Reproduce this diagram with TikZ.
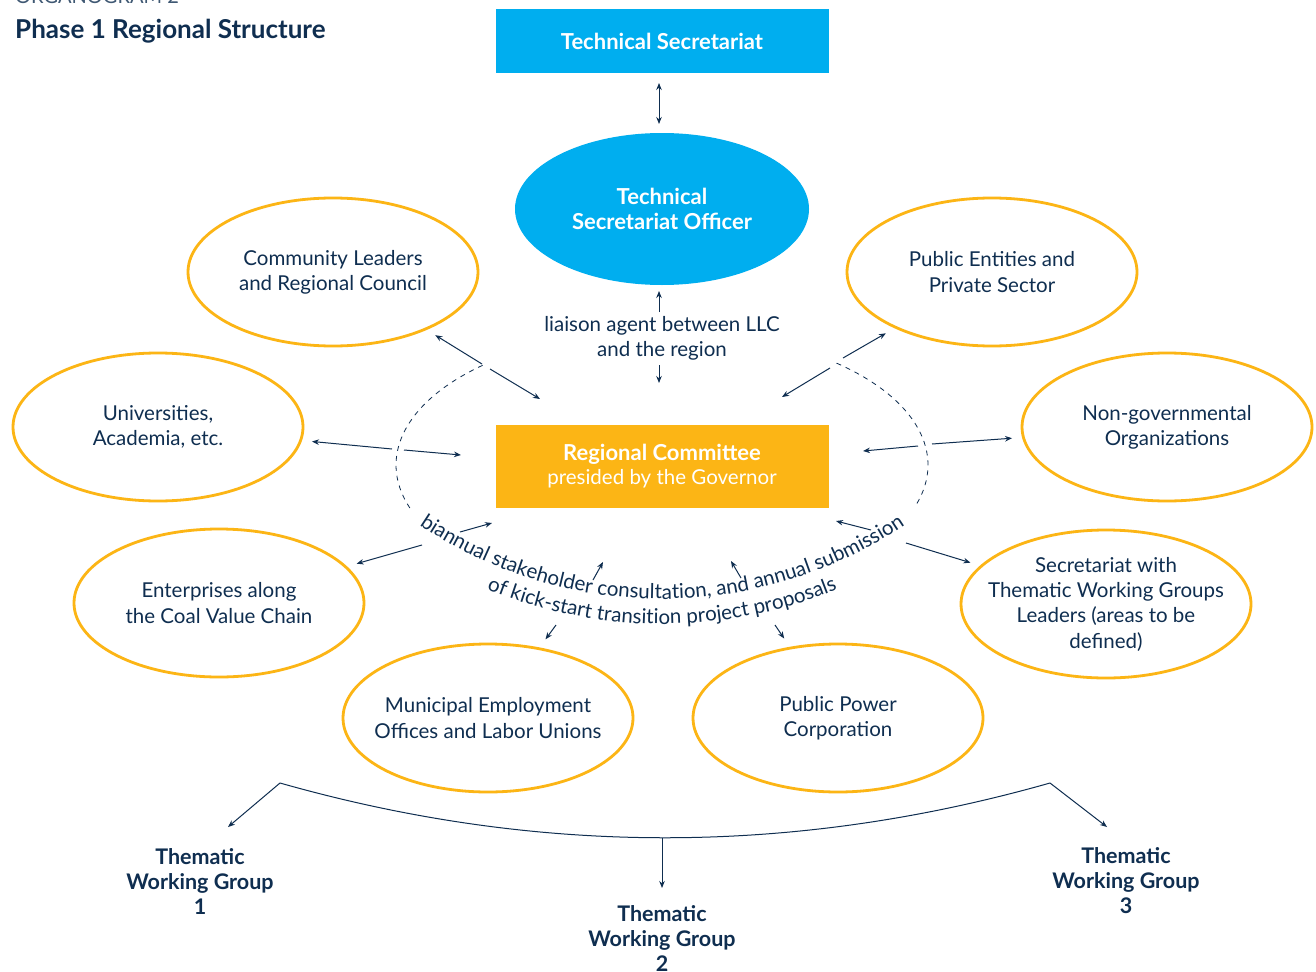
\documentclass[tikz,border=0pt]{standalone}
\usepackage{fontspec}
\setmainfont{Lato}
\usetikzlibrary{shapes.geometric,arrows.meta,decorations.text}
\definecolor{navy}{HTML}{0F2E50}
\definecolor{cyanb}{HTML}{00AEEF}
\definecolor{amber}{HTML}{FCB515}
\tikzset{
  body/.style={font=\fontsize{20.5}{25.3}\selectfont, text=navy, align=center},
  oval/.style={ellipse, draw=amber, line width=2.8pt, minimum width=290pt, minimum height=148pt, inner xsep=-45pt, inner ysep=-25pt, body},
  conn/.style={draw=navy, line width=1pt, -{Stealth[length=7pt,width=5.5pt]}},
  dconn/.style={draw=navy, line width=1pt, {Stealth[length=7pt,width=5.5pt]}-{Stealth[length=7pt,width=5.5pt]}},
  twg/.style={font=\bfseries\fontsize{21.5}{25}\selectfont, text=navy, align=center},
  whitebold/.style={font=\bfseries\fontsize{22}{25}\selectfont, text=white, align=center}
}
\begin{document}
\begin{tikzpicture}[x=1pt,y=-1pt]
\useasboundingbox (0,0) rectangle (1316,971);
\fill[white] (0,0) rectangle (1316,971);

% heading
\node[anchor=base west, inner sep=0pt, font=\fontsize{20}{20}\selectfont, text=navy!80] (over) at (15,4) {ORGANOGRAM 2};
\node[anchor=base west, inner sep=0pt, font=\bfseries\fontsize{26}{28}\selectfont, text=navy] (title) at (15,38.5) {Phase 1 Regional Structure};

% central column
\node[rectangle, fill=cyanb, minimum width=333pt, minimum height=64pt, inner sep=0pt, whitebold] (ts) at (662,41) {Technical Secretariat};
\node[ellipse, fill=cyanb, minimum width=294pt, minimum height=152pt, inner sep=0pt, whitebold] (tso) at (662,209) {Technical\\Secretariat Officer};
\node[body] (liaison) at (662,338) {liaison agent between LLC\\and the region};
\node[rectangle, fill=amber, minimum width=333pt, minimum height=83pt, inner sep=0pt, align=center, text=white] (rc) at (662,466)
  {{\bfseries\fontsize{22}{25}\selectfont Regional Committee}\\[4pt]{\fontsize{20.5}{25}\selectfont presided by the Governor}};

% ellipses
\node[oval] (cl)  at (333,272)  {Community Leaders\\and Regional Council};
\node[oval] (pe)  at (992,272)  {Public Entities and\\Private Sector};
\node[oval] (uni) at (158,427)  {Universities,\\Academia, etc.};
\node[oval] (ngo) at (1167,427) {Non-governmental\\Organizations};
\node[oval] (ent) at (219,603)  {Enterprises along\\the Coal Value Chain};
\node[oval] (sec) at (1106,604) {Secretariat with\\Thematic Working Groups\\Leaders (areas to be\\defined)};
\node[oval] (mun) at (488,718)  {Municipal Employment\\Offices and Labor Unions};
\node[oval] (ppc) at (838,718)  {Public Power\\Corporation};

% top arrows
\coordinate (d0) at (659,83); \coordinate (d1) at (659,124);
\draw[dconn] (d0) -- (d1);
\coordinate (lu0) at (659,312); \coordinate (lu1) at (659,291);
\coordinate (ld0) at (659,365); \coordinate (ld1) at (659,383);
\draw[conn] (lu0) -- (lu1);
\draw[conn] (ld0) -- (ld1);

% dashed ring around the committee
\draw[navy, line width=0.8pt, dash pattern=on 5pt off 5pt] (662,465) ++(227.6:266 and 135) arc[start angle=227.6, end angle=159.6, x radius=266, y radius=135];
\draw[navy, line width=0.8pt, dash pattern=on 5pt off 5pt] (662,465) ++(-49:266 and 135) arc[start angle=-49, end angle=17.3, x radius=266, y radius=135];

% spokes: outer parts (to ellipses)
\coordinate (o1) at (482,364);
\coordinate (o2) at (392,449);
\coordinate (o3) at (422,545);
\coordinate (o4) at (556,625);
\coordinate (o5) at (775,625);
\coordinate (o6) at (906,543);
\coordinate (o7) at (932,444);
\coordinate (o8) at (843,358);
\draw[conn, shorten >=10pt] (o1) -- (cl);
\draw[conn, shorten >=10pt] (o2) -- (uni);
\draw[conn, shorten >=10pt] (o3) -- (ent);
\draw[conn, shorten >=10pt] (o4) -- (mun);
\draw[conn, shorten >=10pt] (o5) -- (ppc);
\draw[conn, shorten >=10pt] (o6) -- (sec);
\draw[conn, shorten >=10pt] (o7) -- (ngo);
\draw[conn, shorten >=10pt] (o8) -- (pe);
% spokes: inner parts (towards the committee)
\coordinate (i1) at (490,369); \coordinate (j1) at (540,399);
\coordinate (i2) at (404,450); \coordinate (j2) at (461,455);
\coordinate (i3) at (460,532); \coordinate (j3) at (492,523);
\coordinate (i4) at (593,580); \coordinate (j4) at (603,562);
\coordinate (i5) at (741,578); \coordinate (j5) at (731,561);
\coordinate (i6) at (871,530); \coordinate (j6) at (836,521);
\coordinate (i7) at (918,446); \coordinate (j7) at (863,451);
\coordinate (i8) at (830,368); \coordinate (j8) at (782,397);
\foreach \k in {1,...,8} {\draw[conn] (i\k) -- (j\k);}

% curved text
\path[decorate, decoration={text along path, text color=navy, text align=center,
  text={|\fontsize{20.5}{20}\selectfont|biannual stakeholder consultation, and annual submission}}]
  (662,164) ++(128:435) arc[start angle=128, end angle=52, radius=435];
\path[decorate, decoration={text along path, text color=navy, text align=center,
  text={|\fontsize{20.5}{20}\selectfont|of kick-start transition project proposals}}]
  (662,164) ++(125:460) arc[start angle=125, end angle=55, radius=460];

% bottom bracket
\coordinate (bl) at (280,783);
\coordinate (br) at (1050,783);
\coordinate (bm) at (662,838);
\draw[navy, line width=1pt] (bl) .. controls (537,856) and (793,856) .. (br);
\node[twg] (tw1) at (200,881) {Thematic\\Working Group\\1};
\node[twg] (tw3) at (1126,881) {Thematic\\Working Group\\3};
\node[twg] (tw2) at (662,938) {Thematic\\Working Group\\2};
\coordinate (t1) at (228,827);
\coordinate (t3) at (1107,827);
\coordinate (t2) at (662,888);
\draw[conn] (bl) -- (t1);
\draw[conn] (br) -- (t3);
\draw[conn] (bm) -- (t2);
\end{tikzpicture}
\end{document}
